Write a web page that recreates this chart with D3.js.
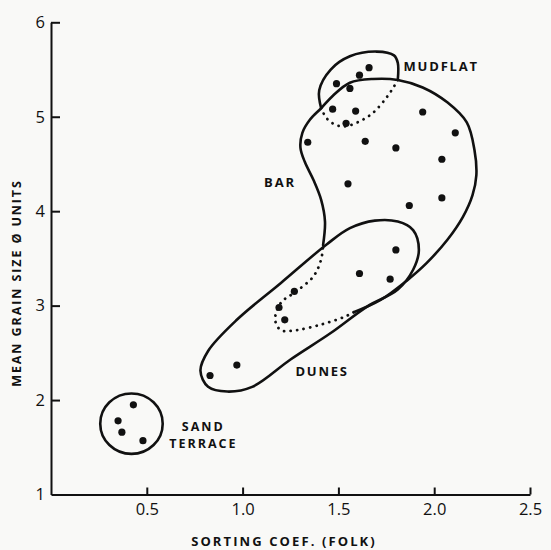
<!DOCTYPE html>
<html><head><meta charset="utf-8">
<script src="https://cdn.jsdelivr.net/npm/d3@7"></script>
<style>
html,body{margin:0;padding:0;background:#f9f9f7;}
svg{display:block;}
text{font-family:"Open Sans","DejaVu Sans",sans-serif;fill:#111;}
</style></head>
<body>
<svg id="c" width="551" height="550"></svg>
<script>
// ---- data ----
const xTicks = [0.5, 1.0, 1.5, 2.0, 2.5];
const yTicks = [1, 2, 3, 4, 5, 6];
const xTitle = "SORTING COEF. (FOLK)";
const yTitle = "MEAN GRAIN SIZE Ø UNITS";

// samples: [sorting coef, mean grain size]
const barMudflatPoints = [[1.66,5.52],[1.61,5.44],[1.49,5.35],[1.56,5.30],[1.47,5.08],[1.59,5.06],[1.54,4.93],[1.94,5.05],[2.11,4.83],[1.34,4.73],[1.64,4.74],[1.80,4.67],[2.04,4.55],[1.55,4.29],[1.87,4.06],[2.04,4.14]];
const dunesPoints = [[1.80,3.59],[1.61,3.34],[1.77,3.28],[1.27,3.15],[1.19,2.98],[1.22,2.85],[0.97,2.37],[0.83,2.26]];
const sandTerracePoints = [[0.43,1.95],[0.35,1.78],[0.37,1.66],[0.48,1.57]];

// region outlines (data units)
const barSolid = [[1.42,3.64],[1.43,3.89],[1.41,4.12],[1.37,4.33],[1.325,4.52],[1.302,4.67],[1.312,4.83],[1.352,4.97],[1.41,5.09],[1.47,5.22],[1.56,5.36],[1.68,5.40],[1.81,5.39],[1.94,5.31],[2.07,5.15],[2.17,4.94],[2.21,4.65],[2.22,4.38],[2.20,4.17],[2.15,3.94],[2.07,3.70],[1.96,3.45],[1.86,3.27],[1.72,3.06],[1.58,2.93]];
const barDotted = [[1.58,2.93],[1.53,2.88],[1.41,2.80],[1.28,2.74],[1.20,2.74],[1.17,2.85],[1.20,3.03],[1.28,3.15],[1.37,3.31],[1.41,3.49],[1.42,3.64]];
const mudflatSolid = [[1.41,5.09],[1.40,5.28],[1.46,5.50],[1.56,5.64],[1.70,5.69],[1.79,5.65],[1.81,5.57],[1.81,5.39]];
const mudflatDotted = [[1.81,5.39],[1.79,5.32],[1.75,5.20],[1.68,5.04],[1.61,4.95],[1.54,4.90],[1.49,4.91],[1.44,4.98],[1.41,5.09]];
const dunesOutline = [[0.78,2.31],[0.82,2.14],[0.92,2.09],[1.05,2.14],[1.25,2.43],[1.46,2.71],[1.65,2.99],[1.81,3.17],[1.89,3.38],[1.92,3.59],[1.89,3.80],[1.81,3.89],[1.69,3.90],[1.56,3.82],[1.44,3.65],[1.20,3.24],[0.97,2.85],[0.82,2.52]];
const sandCircle = {cx:0.42, cy:1.75, rx:0.163, ry:0.32};

const regionLabels = ["MUDFLAT","BAR","DUNES"];
const regionLabelAt = [[1.84,5.53],[1.195,4.31],[1.415,2.30]];
const regionLabelAnchor = ["start","middle","middle"];
const sandLabelLines = ["SAND","TERRACE"];
const sandLabelAt = [0.795, 1.63];

// ---- chart ----
const svg = d3.select("#c");
const x = d3.scaleLinear().domain([0, 2.5]).range([51, 530]);
const y = d3.scaleLinear().domain([1, 6]).range([494.5, 22.3]);
const ink = "#111";

// axes
const gx = svg.append("g").attr("transform", `translate(0,${y(1)})`)
  .call(d3.axisBottom(x).tickValues(xTicks).tickFormat(d3.format(".1f")).tickSize(-7).tickSizeOuter(0).tickPadding(9));
const gy = svg.append("g").attr("transform", `translate(${x(0)},0)`)
  .call(d3.axisLeft(y).tickValues(yTicks).tickFormat(d3.format("d")).tickSize(-9).tickSizeOuter(0).tickPadding(6));
[gx, gy].forEach(g => {
  g.select(".domain").attr("stroke", ink).attr("stroke-width", 2);
  g.selectAll(".tick line").attr("stroke", ink).attr("stroke-width", 2);
  g.selectAll(".tick text").attr("fill", ink).style("font-size", "16.5px")
    .style("font-family", '"Liberation Sans Narrow","Open Sans",sans-serif');
});
gy.selectAll(".tick").filter(d => d === 1).select("line").remove();
gx.selectAll(".tick text").attr("dy", "0.68em");

// titles
svg.append("text").attr("x", 284).attr("y", 546).attr("text-anchor", "middle")
  .style("font-size", "13px").style("font-weight", "bold").style("letter-spacing", "2.1px").text(xTitle);
svg.append("text").attr("transform", `translate(21,${283}) rotate(-90)`).attr("text-anchor", "middle")
  .style("font-size", "12.5px").style("font-weight", "bold").style("letter-spacing", "1.9px").text(yTitle);

// outlines
const line = d3.line().x(d => x(d[0])).y(d => y(d[1])).curve(d3.curveCatmullRom.alpha(0.5));
const closed = d3.line().x(d => x(d[0])).y(d => y(d[1])).curve(d3.curveCatmullRomClosed.alpha(0.5));
const solidStyle = s => s.attr("fill", "none").attr("stroke", ink).attr("stroke-width", 2.6).attr("stroke-linejoin", "round").attr("stroke-linecap", "round");
const dotStyle = s => s.attr("fill", "none").attr("stroke", ink).attr("stroke-width", 2.8).attr("stroke-linecap", "round").attr("stroke-dasharray", "0.1,6.5");

svg.append("path").attr("d", line(barSolid)).call(solidStyle);
svg.append("path").attr("d", line(barDotted)).call(dotStyle);
svg.append("path").attr("d", line(mudflatSolid)).call(solidStyle);
svg.append("path").attr("d", line(mudflatDotted)).call(dotStyle);
svg.append("path").attr("d", closed(dunesOutline)).call(solidStyle);
svg.append("ellipse").attr("cx", x(sandCircle.cx)).attr("cy", y(sandCircle.cy))
  .attr("rx", x(sandCircle.cx + sandCircle.rx) - x(sandCircle.cx))
  .attr("ry", y(sandCircle.cy) - y(sandCircle.cy + sandCircle.ry)).call(solidStyle);

// points
const allPts = barMudflatPoints.concat(dunesPoints, sandTerracePoints);
svg.append("g").selectAll("circle").data(allPts).join("circle")
  .attr("cx", d => x(d[0])).attr("cy", d => y(d[1])).attr("r", 3.6).attr("fill", ink);

// region labels
const labStyle = s => s.style("font-size", "13px").style("font-weight", "bold").style("letter-spacing", "1.8px");
svg.append("g").selectAll("text").data(regionLabels).join("text")
  .attr("x", (d, i) => x(regionLabelAt[i][0])).attr("y", (d, i) => y(regionLabelAt[i][1]))
  .attr("dy", "0.36em").attr("text-anchor", (d, i) => regionLabelAnchor[i])
  .call(labStyle).text(d => d);
const sandText = svg.append("text").attr("text-anchor", "middle").call(labStyle)
  .style("font-size", "12.5px").style("letter-spacing", "2px");
sandText.selectAll("tspan").data(sandLabelLines).join("tspan")
  .attr("x", x(sandLabelAt[0])).attr("y", y(sandLabelAt[1]))
  .attr("dy", (d, i) => (i * 17.5 - 4.5) + "px").text(d => d);
</script>
</body></html>
